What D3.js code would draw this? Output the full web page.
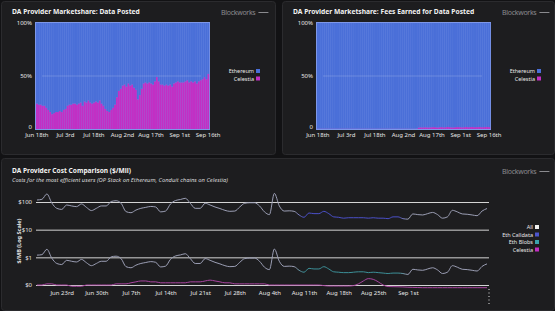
<!DOCTYPE html>
<html>
<head>
<meta charset="utf-8">
<script src="https://cdn.jsdelivr.net/npm/d3@7"></script>
<style>
  body { margin: 0; background: #121214; font-family: "Noto Sans", "Open Sans", sans-serif; }
  svg text { font-family: "Noto Sans", "Open Sans", sans-serif; }
</style>
</head>
<body>
<script>
// daily share of data posted that went to Celestia (%), Jun 18th .. Sep 16th
const celestiaDataShare = [24,23,23,22,22,20,18,16,14,15,16,16,17,16,18,19,22,23,23,24,
  24,23,24,25,22,26,25,27,25,24,25,26,25,27,24,22,19,17,16,18,
  20,23,30,36,38,41,42,40,43,41,42,39,37,28,32,38,43,44,43,44,
  43,42,45,49,45,42,42,41,42,41,42,40,43,44,45,44,44,44,45,46,
  44,45,44,45,43,45,46,47,49,47,52];
// daily share of fees earned by Celestia (%)
const celestiaFeeShare = [0.3,0.3,0.3,0.3,0.3,0.3,0.3,0.3,0.3,0.3,0.3,0.3,0.3,0.3,0.3,0.3,0.3,0.3,0.3,0.3,
  0.3,0.3,0.3,0.3,0.3,0.3,0.3,0.3,0.3,0.3,0.3,0.3,0.3,0.3,0.3,0.3,0.3,0.3,0.3,0.3,
  0.3,0.3,0.3,0.3,0.3,0.3,0.3,0.3,0.3,0.3,0.3,0.3,0.4,1.4,1.6,1.5,1.7,1.6,1.5,1.6,
  1.7,1.8,1.6,1.5,1.7,1.8,1.6,1.7,1.9,1.8,1.6,1.5,1.7,1.8,1.8,1.7,1.6,1.8,1.9,1.7,
  1.8,1.9,1.7,1.8,1.8,1.9,1.7,1.8,2.0,1.9,1.8];

// cost comparison ($ per MB), Jun 18th .. Sep 17th
const ethCalldata = [118,125,195,92,59,54,78,72,68,85,64,49,59,72,72,104,111,90,45,41,
  51,59,64,69,66,44,47,85,113,123,136,90,59,59,90,78,66,58,50,46,
  47,66,90,94,94,72,44,35,205,72,47,48,46,34,28,40,38,38,46,38,
  29,28,26,27,27,27,27,26,27,26,26,25,29,29,25,24,37,35,34,38,
  42,35,26,29,50,44,37,36,34,32,47,58];
const ethBlobs = [1.2,1.25,1.95,0.93,0.6,0.55,0.78,0.72,0.68,0.84,0.64,0.5,0.6,0.72,0.72,1.04,1.1,0.9,0.46,0.42,
  0.52,0.6,0.65,0.7,0.66,0.45,0.48,0.85,1.12,1.22,1.35,0.9,0.6,0.6,0.9,0.78,0.66,0.58,0.5,0.46,
  0.47,0.66,0.9,0.94,0.94,0.72,0.44,0.36,2.0,0.72,0.47,0.48,0.46,0.34,0.29,0.4,0.38,0.38,0.46,0.38,
  0.3,0.29,0.28,0.28,0.29,0.3,0.3,0.28,0.29,0.28,0.27,0.26,0.27,0.27,0.26,0.24,0.37,0.35,0.34,0.38,
  0.42,0.35,0.26,0.29,0.5,0.44,0.37,0.36,0.34,0.32,0.47,0.58];
const celestiaCost = [0.10,0.10,0.11,0.11,0.10,0.10,0.10,0.09,0.09,0.09,0.10,0.10,0.10,0.10,0.10,0.10,0.11,0.11,0.11,0.12,
  0.13,0.14,0.14,0.13,0.13,0.12,0.12,0.12,0.12,0.12,0.12,0.13,0.13,0.13,0.14,0.15,0.14,0.13,0.12,0.12,
  0.11,0.11,0.11,0.11,0.11,0.11,0.11,0.10,0.10,0.10,0.10,0.10,0.10,0.10,0.10,0.10,0.10,0.10,0.095,0.092,
  0.092,0.092,0.092,0.092,0.095,0.11,0.14,0.17,0.16,0.13,0.10,0.088,0.087,0.086,0.085,0.083,0.082,0.081,0.08,0.08,
  0.08,0.08,0.08,0.08,0.08,0.08,0.08,0.08,0.08,0.08,0.08,0.08];

const legendTop = ["Ethereum", "Celestia"];
const legendCost = ["All", "Eth Calldata", "Eth Blobs", "Celestia"];
const yTickShare = [0, 50, 100];
const yTickCost = [0.1, 1, 10, 100];

const colEth = "#4a6fd8", colCel = "#c22fc4";
const costColors = {"All": "#f0f0f0", "Eth Calldata": "#4c55cc", "Eth Blobs": "#3aa3ad", "Celestia": "#c22fc4"};

const topDates = d3.timeDay.range(new Date(2024, 5, 18), new Date(2024, 8, 17));
const costDates = d3.timeDay.range(new Date(2024, 5, 18), new Date(2024, 8, 18));

function ordinal(n) {
  if (n > 3 && n < 21) return n + "th";
  return n + (["th","st","nd","rd"][n % 10] || "th");
}
const fmtDay = d => d3.timeFormat("%b ")(d) + ordinal(d.getDate());

const svg = d3.select("body").append("svg").attr("width", 555).attr("height", 311);

// panels
[[1, 1, 274, 153], [282, 1, 272, 153], [1, 158, 553, 152]].forEach(p => {
  svg.append("rect").attr("x", p[0] + 0.5).attr("y", p[1] + 0.5).attr("width", p[2]).attr("height", p[3])
    .attr("rx", 3).attr("fill", "#1d1d1f").attr("stroke", "#2b2b2e");
});

function watermark(x, y) {
  const t = svg.append("text").attr("x", x).attr("y", y).attr("font-size", 7).attr("fill", "#8a8a8e")
    .attr("letter-spacing", -0.3).text("Blockworks");
  const w = t.node().getComputedTextLength();
  svg.append("line").attr("x1", x + w + 3).attr("x2", x + w + 13).attr("y1", y - 2.5).attr("y2", y - 2.5)
    .attr("stroke", "#8a8a8e").attr("stroke-width", 1);
}

function shareChart(ox, title, celShare) {
  const left = ox + 36, right = ox + 209, top = 23, bottom = 129;
  svg.append("text").attr("x", ox + 12).attr("y", 14).attr("font-size", 6.7).attr("font-weight", "bold")
    .attr("fill", "#f2f2f2").text(title);
  watermark(ox + 221, 15);

  const rows = topDates.map((d, i) => ({date: d, Celestia: celShare[i], Ethereum: 100 - celShare[i]}));
  const x = d3.scaleBand().domain(topDates).range([left, right]).paddingInner(0.1);
  const y = d3.scaleLinear().domain([0, 100]).range([bottom, top]);
  const series = d3.stack().keys(["Celestia", "Ethereum"])(rows);

  svg.append("rect").attr("x", left - 1).attr("y", top - 1).attr("width", right - left + 2)
    .attr("height", bottom - top + 2).attr("fill", "#7d97e8");

  svg.append("g").selectAll("g").data(series).join("g")
    .attr("fill", s => s.key === "Ethereum" ? colEth : colCel)
    .selectAll("rect").data(s => s).join("rect")
    .attr("x", d => x(d.data.date)).attr("width", x.bandwidth() + 0.2)
    .attr("y", d => y(d[1])).attr("height", d => y(d[0]) - y(d[1]));

  svg.append("line").attr("x1", left + 6).attr("x2", right - 8).attr("y1", y(50)).attr("y2", y(50))
    .attr("stroke", "#ffffff").attr("stroke-opacity", 0.18);

  const yAxis = svg.append("g").attr("transform", `translate(${left - 2},0)`)
    .call(d3.axisLeft(y).tickValues(yTickShare).tickSize(0).tickPadding(2)
      .tickFormat(v => v === 0 ? "0" : v + "%"));
  yAxis.selectAll(".tick text").filter(v => v === 0).attr("dy", "-0.15em");
  const xAxis = svg.append("g").attr("transform", `translate(0,${bottom})`)
    .call(d3.axisBottom(x).tickValues(topDates.filter((d, i) => i % 15 === 0)).tickSize(0).tickPadding(3.5)
      .tickFormat(fmtDay));
  [xAxis, yAxis].forEach(a => {
    a.select(".domain").remove();
    a.selectAll("text").attr("fill", "#e6e6e6").attr("font-size", 6);
  });

  // legend
  legendTop.forEach((k, i) => {
    const ly = 71 + i * 7.5;
    svg.append("text").attr("x", ox + 254).attr("y", ly + 2).attr("text-anchor", "end")
      .attr("font-size", 5.5).attr("fill", "#e6e6e6").text(k);
    svg.append("rect").attr("x", ox + 256).attr("y", ly - 2).attr("width", 4).attr("height", 4)
      .attr("fill", k === "Ethereum" ? colEth : colCel);
  });
}

shareChart(0, "DA Provider Marketshare: Data Posted", celestiaDataShare);
shareChart(281, "DA Provider Marketshare: Fees Earned for Data Posted", celestiaFeeShare);

// ---- cost comparison ----
svg.append("text").attr("x", 12).attr("y", 173).attr("font-size", 6.6).attr("font-weight", "bold")
  .attr("fill", "#f2f2f2").text("DA Provider Cost Comparison ($/Mil)");
svg.append("text").attr("x", 12).attr("y", 181.5).attr("font-size", 5.8).attr("font-style", "italic")
  .attr("fill", "#d8d8d8").text("Costs for the most efficient users (OP Stack on Ethereum, Conduit chains on Celestia)");
watermark(502, 174);

const cx = d3.scaleTime().domain([costDates[0], costDates[costDates.length - 1]]).range([37, 487]);
const cy = d3.scaleLog().domain([0.1, 100]).range([285, 202]);

const grid = svg.append("g").attr("transform", "translate(36,0)")
  .call(d3.axisLeft(cy).tickValues(yTickCost).tickSize(-453).tickPadding(4)
    .tickFormat(v => v < 1 ? "$0" : "$" + v));
grid.select(".domain").remove();
grid.selectAll("line").attr("stroke", "#d4d4d4").attr("stroke-width", 1);
grid.selectAll("text").attr("fill", "#e6e6e6").attr("font-size", 6);

const cxAxis = svg.append("g").attr("transform", "translate(0,288)")
  .call(d3.axisBottom(cx).tickValues(d3.timeSunday.range(new Date(2024, 5, 19), new Date(2024, 8, 2)))
    .tickSize(0).tickPadding(3).tickFormat(fmtDay));
cxAxis.select(".domain").remove();
cxAxis.selectAll("text").attr("fill", "#e6e6e6").attr("font-size", 6);

svg.append("text").attr("transform", "translate(21,241) rotate(-90)").attr("text-anchor", "middle")
  .attr("font-size", 5.5).attr("font-weight", "bold").attr("fill", "#e6e6e6").text("$/MB (Log Scale)");

// lines are drawn grey except for the stretch where only the single series shows through
const defs = svg.append("defs");
function grad(id, col) {
  const x0 = cx.range()[0], x1 = cx.range()[1];
  const a = (cx(new Date(2024, 7, 10)) - x0) / (x1 - x0), b = (cx(new Date(2024, 7, 31)) - x0) / (x1 - x0);
  const g = defs.append("linearGradient").attr("id", id).attr("gradientUnits", "userSpaceOnUse")
    .attr("x1", x0).attr("x2", x1).attr("y1", 0).attr("y2", 0);
  [[0, "#9a9db3"], [a - 0.01, "#9a9db3"], [a + 0.01, col], [b - 0.01, col], [b + 0.01, "#9a9db3"], [1, "#9a9db3"]]
    .forEach(s => g.append("stop").attr("offset", s[0]).attr("stop-color", s[1]));
}
grad("gCall", "#4a4fc8");
grad("gBlob", "#3b8f97");

const line = d3.line().x((d, i) => cx(costDates[i])).y(d => cy(d)).curve(d3.curveMonotoneX);
svg.append("path").datum(celestiaCost).attr("d", line).attr("fill", "none")
  .attr("stroke", "#a8449f").attr("stroke-width", 1);
svg.append("path").datum(ethBlobs).attr("d", line).attr("fill", "none")
  .attr("stroke", "url(#gBlob)").attr("stroke-width", 1);
svg.append("path").datum(ethCalldata).attr("d", line).attr("fill", "none")
  .attr("stroke", "url(#gCall)").attr("stroke-width", 1);

// hover marker at the right edge
svg.append("line").attr("x1", 489).attr("x2", 489).attr("y1", 289).attr("y2", 304)
  .attr("stroke", "#e6e6e6").attr("stroke-width", 1).attr("stroke-dasharray", "1,2.5");

legendCost.forEach((k, i) => {
  const ly = 227 + i * 7.5;
  svg.append("text").attr("x", 533).attr("y", ly + 2).attr("text-anchor", "end")
    .attr("font-size", 5.5).attr("fill", "#e6e6e6").text(k);
  svg.append("rect").attr("x", 535).attr("y", ly - 2).attr("width", 4).attr("height", 4)
    .attr("fill", costColors[k]);
});
</script>
</body>
</html>
